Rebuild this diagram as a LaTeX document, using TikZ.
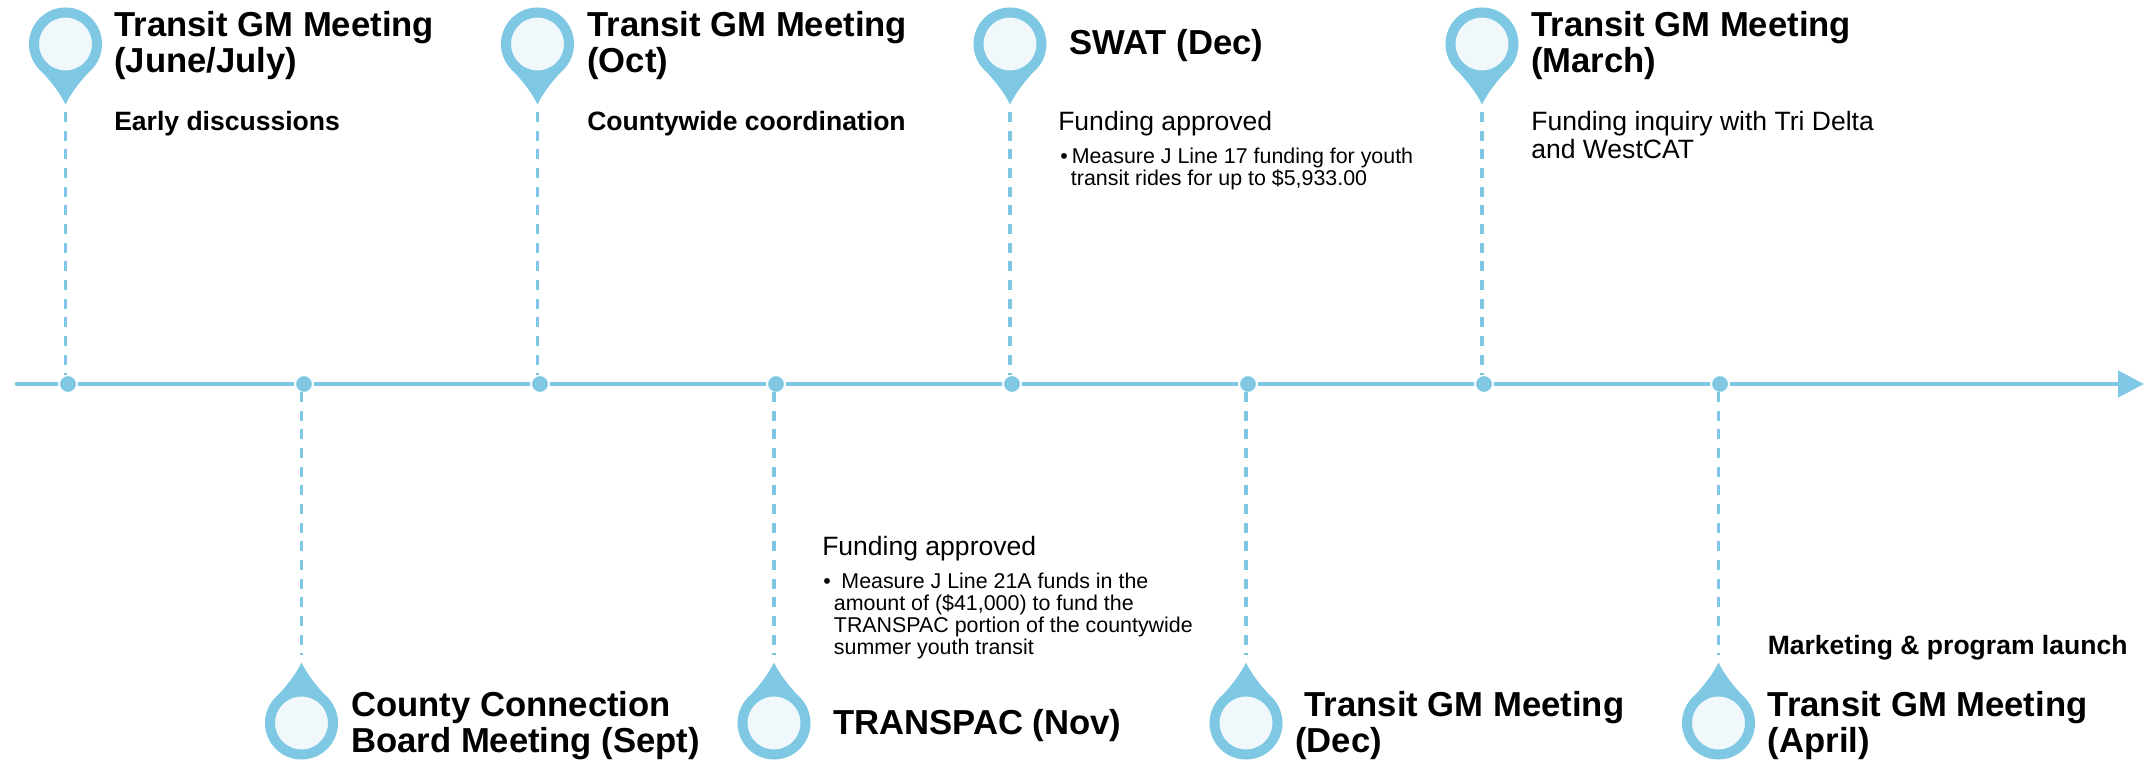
\documentclass[tikz,border=0pt]{standalone}
\usepackage{fontspec}
\setmainfont{Liberation Sans}
\usetikzlibrary{arrows.meta}
\definecolor{pinblue}{HTML}{7EC8E3}
\definecolor{pinpale}{HTML}{F0F8FC}
\def\pinhead{\node[circle,draw=pinblue,fill=pinpale,line width=7.5pt,minimum size=47.25pt,inner sep=0pt]}
\def\axisdot{\node[circle,fill=pinblue,draw=white,line width=1.5pt,minimum size=13.5pt,inner sep=0pt]}
\def\drawdash{\draw[color=pinblue,line width=2.4pt,dash pattern=on 7.5pt off 6.5pt]}
\def\headtext{\node[anchor=base west,align=left,inner sep=0pt,font=\bfseries\fontsize{26}{27}\selectfont]}
\def\subbold{\node[anchor=base west,align=left,inner sep=0pt,font=\bfseries\fontsize{19.9}{21}\selectfont]}
\def\subtext{\node[anchor=base west,align=left,inner sep=0pt,font=\fontsize{19.9}{21}\selectfont]}
\def\smalltext{\node[anchor=base west,align=left,inner sep=0pt,font=\fontsize{16.05}{16.5}\selectfont]}
\tikzset{
  tailup/.pic={\fill[pinblue] (-30,20.5) .. controls (-20,32) and (-8,44) .. (0,60.5) .. controls (8,44) and (20,32) .. (30,20.5) -- cycle;},
  taildown/.pic={\fill[pinblue] (-30,-20.5) .. controls (-20,-32) and (-8,-44) .. (0,-60.5) .. controls (8,-44) and (20,-32) .. (30,-20.5) -- cycle;}
}
\begin{document}
\begin{tikzpicture}[x=0.75pt,y=-0.75pt]
\useasboundingbox (0,0) rectangle (2154,762);
% axis
\coordinate (axisl) at (17,384);
\coordinate (axisr) at (2144,384);
\draw[color=pinblue,line width=3.4pt,line cap=round,-{Triangle[length=19.5pt,width=19.5pt]}] (axisl) -- (axisr);
\axisdot (da) at (68,384) {};
\axisdot (db) at (304,384) {};
\axisdot (dc) at (540,384) {};
\axisdot (dd) at (776,384) {};
\axisdot (de) at (1012,384) {};
\axisdot (df) at (1248,384) {};
\axisdot (dg) at (1484,384) {};
\axisdot (dh) at (1720,384) {};
% pins above
\pic at (65.5,44) {tailup};
\pic at (537.5,44) {tailup};
\pic at (1010,44) {tailup};
\pic at (1482,44) {tailup};
\pinhead (pina) at (65.5,44) {};
\pinhead (pinc) at (537.5,44) {};
\pinhead (pine) at (1010,44) {};
\pinhead (ping) at (1482,44) {};
% pins below
\pic at (301.5,723) {taildown};
\pic at (774,723) {taildown};
\pic at (1246,723) {taildown};
\pic at (1718.5,723) {taildown};
\pinhead (pinb) at (301.5,723) {};
\pinhead (pind) at (774,723) {};
\pinhead (pinf) at (1246,723) {};
\pinhead (pinh) at (1718.5,723) {};
% dashes
\coordinate (ta) at (65.5,112);
\coordinate (ua) at (65.5,375);
\coordinate (tc) at (537.5,112);
\coordinate (uc) at (537.5,375);
\coordinate (te) at (1010,112);
\coordinate (ue) at (1010,375);
\coordinate (tg) at (1482,112);
\coordinate (ug) at (1482,375);
\coordinate (tb) at (301.5,392);
\coordinate (ub) at (301.5,655);
\coordinate (td) at (774,392);
\coordinate (ud) at (774,655);
\coordinate (tf) at (1246,392);
\coordinate (uf) at (1246,655);
\coordinate (th) at (1718.5,392);
\coordinate (uh) at (1718.5,655);
\drawdash (ta) -- (ua);
\drawdash (tc) -- (uc);
\drawdash (te) -- (ue);
\drawdash (tg) -- (ug);
\drawdash (tb) -- (ub);
\drawdash (td) -- (ud);
\drawdash (tf) -- (uf);
\drawdash (th) -- (uh);
% texts above
\headtext (juneh) at (114,72.5) {Transit GM Meeting\\(June/July)};
\subbold (junes) at (114,130.5) {Early discussions};
\headtext (octh) at (587,72.5) {Transit GM Meeting\\(Oct)};
\subbold (octs) at (587,130.5) {Countywide coordination};
\headtext (swath) at (1069,55) {SWAT (Dec)};
\subtext (swats) at (1058,130.5) {Funding approved};
\smalltext (swatb) at (1060,185.5) {•\hspace{3pt}Measure J Line 17 funding for youth\\\hspace*{8pt}transit rides for up to \$5,933.00};
\headtext (marh) at (1531,72.5) {Transit GM Meeting\\(March)};
\subtext (mars) at (1531,158.5) {Funding inquiry with Tri Delta\\and WestCAT};
% texts below
\headtext (septh) at (351,752) {County Connection\\Board Meeting (Sept)};
\subtext (novs) at (822,555) {Funding approved};
\smalltext (novb) at (823,654.5) {•\hspace{8pt}Measure J Line 21A funds in the\\\hspace*{8pt}amount of (\$41,000) to fund the\\\hspace*{8pt}TRANSPAC portion of the countywide\\\hspace*{8pt}summer youth transit};
\headtext (novh) at (833,734.5) {TRANSPAC (Nov)};
\headtext (dech) at (1295,752) {\hspace*{7pt}Transit GM Meeting\\(Dec)};
\subbold (aprs) at (1767.5,654.5) {Marketing \& program launch};
\headtext (aprh) at (1767.5,752) {Transit GM Meeting\\(April)};
\end{tikzpicture}
\end{document}
